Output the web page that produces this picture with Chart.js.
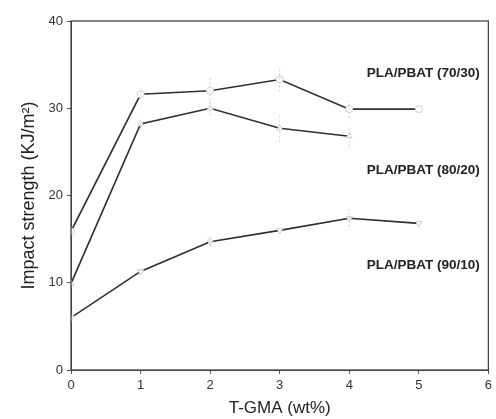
<!DOCTYPE html>
<html>
<head>
<meta charset="utf-8">
<script src="https://cdn.jsdelivr.net/npm/chart.js@4"></script>
<style>
  html, body { margin: 0; padding: 0; background: #fff; }
  #wrap { width: 496px; height: 419px; }
</style>
</head>
<body>
<div id="wrap"><canvas id="impactChart"></canvas></div>
<script>
// T-GMA content (wt%)
const tgma = [0, 1, 2, 3, 4, 5];

const pla7030 = [15.9, 31.6, 32.0, 33.3, 29.9, 29.9];
const pla8020 = [9.9, 28.2, 30.0, 27.7, 26.8, null];
const pla9010 = [6.0, 11.3, 14.7, 16.0, 17.4, 16.8];

// faint error bars (+/-)
const err7030 = [0.5, 0.6, 1.5, 1.4, 1.0, 0];
const err8020 = [0.5, 0.6, 0.8, 1.5, 1.2, 0];
const err9010 = [0.5, 0.4, 0.6, 0, 1.0, 0];

const seriesLabels = ['PLA/PBAT (70/30)', 'PLA/PBAT (80/20)', 'PLA/PBAT (90/10)'];
// where each series name sits, in data units
const labelPos = [[4.25, 34.0], [4.25, 22.9], [4.25, 12.0]];

const xTicks = [0, 1, 2, 3, 4, 5, 6];
const yTicks = [0, 10, 20, 30, 40];

const toPts = (ys) => tgma.map((x, i) => ({ x: x, y: ys[i] }));

const FONT = '"Liberation Sans", Arial, sans-serif';

const lineStyle = {
    borderColor: '#2e2e2e',
    borderWidth: 1.6,
    pointBackgroundColor: '#fff',
    pointBorderColor: '#d0d0d0',
    pointBorderWidth: 1,
    pointRadius: 3.5,
    tension: 0,
    spanGaps: false
};

const errorBars = {
    id: 'errorBars',
    afterDatasetsDraw(chart) {
        const c = chart.ctx, xs = chart.scales.x, ys = chart.scales.y;
        const errs = [err7030, err8020, err9010];
        c.save();
        c.strokeStyle = '#cfcfcf';
        c.lineWidth = 1;
        c.setLineDash([2, 2]);
        chart.data.datasets.forEach((ds, k) => {
            ds.data.forEach((p, i) => {
                if (p.y == null || !errs[k][i]) return;
                const px = xs.getPixelForValue(p.x);
                c.beginPath();
                c.moveTo(px, ys.getPixelForValue(p.y - errs[k][i]));
                c.lineTo(px, ys.getPixelForValue(p.y + errs[k][i]));
                c.stroke();
            });
        });
        c.restore();
    }
};

const seriesNames = {
    id: 'seriesNames',
    afterDraw(chart) {
        const c = chart.ctx, xs = chart.scales.x, ys = chart.scales.y;
        c.save();
        c.fillStyle = '#222';
        c.font = 'bold 13.5px ' + FONT;
        c.textBaseline = 'middle';
        seriesLabels.forEach((t, i) => {
            c.fillText(t, xs.getPixelForValue(labelPos[i][0]), ys.getPixelForValue(labelPos[i][1]));
        });
        c.restore();
    }
};

const frame = {
    id: 'frame',
    afterDraw(chart) {
        const a = chart.chartArea, c = chart.ctx;
        c.save();
        c.strokeStyle = '#444';
        c.lineWidth = 1.3;
        c.strokeRect(a.left, a.top, a.right - a.left, a.bottom - a.top);
        c.restore();
    }
};

new Chart(document.getElementById('impactChart'), {
    type: 'line',
    data: {
        datasets: [
            Object.assign({ label: seriesLabels[0], data: toPts(pla7030), pointStyle: 'circle' }, lineStyle),
            Object.assign({ label: seriesLabels[1], data: toPts(pla8020), pointStyle: 'triangle' }, lineStyle),
            Object.assign({ label: seriesLabels[2], data: toPts(pla9010), pointStyle: 'triangle', rotation: 180 }, lineStyle)
        ]
    },
    options: {
        responsive: true,
        maintainAspectRatio: false,
        animation: false,
        layout: { padding: { top: 21, right: 0, left: 18, bottom: 0 } },
        plugins: {
            legend: { display: false },
            tooltip: { enabled: false }
        },
        scales: {
            x: {
                type: 'linear',
                min: 0,
                max: 6,
                afterBuildTicks: (s) => { s.ticks = xTicks.map(v => ({ value: v })); },
                afterFit: (s) => { s.height = 49; },
                grid: { drawOnChartArea: false, tickLength: 4, color: '#555' },
                border: { color: '#444' },
                ticks: {
                    color: '#333',
                    padding: 4,
                    font: { family: FONT, size: 13 }
                },
                title: {
                    display: true,
                    text: 'T-GMA (wt%)',
                    color: '#222',
                    padding: { top: 3, bottom: 0 },
                    font: { family: FONT, size: 17 }
                }
            },
            y: {
                min: 0,
                max: 40,
                afterBuildTicks: (s) => { s.ticks = yTicks.map(v => ({ value: v })); },
                afterFit: (s) => { s.width = 53; },
                grid: { drawOnChartArea: false, tickLength: 4, color: '#555' },
                border: { color: '#444' },
                ticks: {
                    color: '#333',
                    padding: 4,
                    font: { family: FONT, size: 13 }
                },
                title: {
                    display: true,
                    text: 'Impact strength (KJ/m²)',
                    color: '#222',
                    padding: { top: 0, bottom: 0 },
                    font: { family: FONT, size: 18 }
                }
            }
        }
    },
    plugins: [errorBars, seriesNames, frame]
});
</script>
</body>
</html>
